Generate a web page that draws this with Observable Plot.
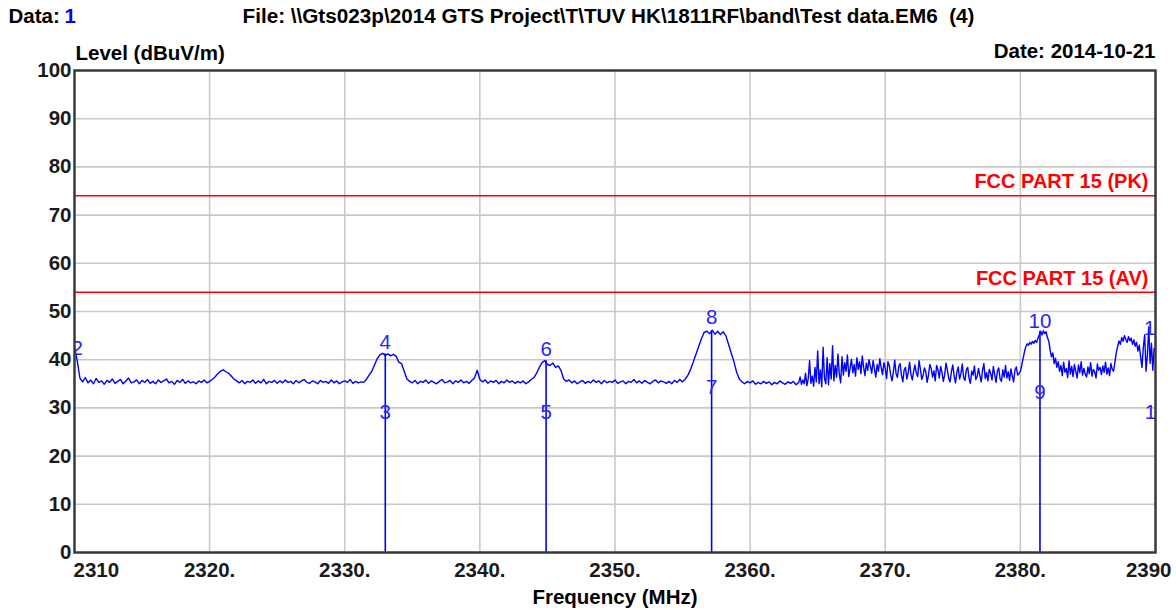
<!DOCTYPE html>
<html><head><meta charset="utf-8">
<script src="https://cdn.jsdelivr.net/npm/d3@7"></script>
<script src="https://cdn.jsdelivr.net/npm/@observablehq/plot@0.6"></script>
<style>html,body{margin:0;padding:0;background:#fff;}</style>
</head><body><div id="chart"></div>
<script>
// ---- data ----
const quietStart = 2310, quietStep = 0.2;   // sweep 2310.0 .. 2363.4 MHz
const quietLevels = [
42.5,39.8,36.2,35.4,36.3, 35.2,35.8,35.0,36.1,35.3, 35.6,34.9,35.7,35.3,36.0, 35.1,35.5,35.9,35.0,35.6,
36.2,35.2,35.4,35.8,35.0, 35.7,35.3,35.9,35.1,35.5, 35.0,35.8,35.3,35.6,36.0, 35.2,35.5,34.9,35.7,35.3,
35.9,35.1,35.6,35.2,35.4, 35.0,35.6,35.3,35.8,35.2, 35.5,35.9,36.4,37.1,37.6, 37.9,37.5,37.2,36.6,36.0,
35.6,35.2,35.7,35.0,35.5, 35.3,35.8,35.1,35.6,35.2, 35.9,35.0,35.5,35.3,35.7, 35.1,35.6,35.2,35.8,35.3,
35.5,35.0,35.7,35.2,35.6, 35.9,35.3,35.1,35.6,35.4, 35.0,35.7,35.3,35.5,35.1, 35.8,35.2,35.6,35.0,35.4,
35.6,35.3,35.9,35.1,35.5, 35.2,35.4,35.3,35.9,36.8, 37.6,38.9,40.2,41.0,41.3, 40.9,41.2,40.8,41.1,40.7,
39.5,39.2,37.6,36.0,35.5, 35.2,35.7,35.0,35.5,35.3, 35.8,35.1,35.6,35.3,35.0, 35.5,35.9,35.2,35.4,35.7,
35.0,35.6,35.3,35.8,35.2, 35.5,35.1,35.7,36.2,37.8, 35.9,35.4,35.8,35.1,35.6, 35.3,35.7,35.0,35.5,35.2,
35.8,35.3,35.6,35.1,35.5, 35.2,35.6,35.0,35.4,35.9, 36.3,37.2,38.4,39.4,39.8, 39.0,38.8,39.3,38.4,38.7,
37.8,36.0,35.5,35.8,35.2, 35.6,35.0,35.4,35.7,35.1, 35.5,35.2,35.8,35.3,35.6, 35.0,35.7,35.2,35.5,35.3,
35.8,35.1,35.4,35.6,35.0, 35.5,35.3,35.9,35.2,35.6, 35.1,35.7,35.3,35.0,35.5, 35.8,35.2,35.6,35.4,35.1,
35.5,35.0,35.7,35.3,35.9, 35.4,36.0,36.8,38.0,39.6, 41.2,42.8,44.4,45.7,45.9, 45.4,46.1,45.3,45.9,45.2,
45.8,45.0,43.2,41.4,39.6, 37.4,36.0,35.4,35.0,35.5, 35.2,35.6,34.9,35.3,35.0, 35.5,35.1,35.4,34.8,35.3,
35.0,35.6,35.2,34.9,35.4, 35.1,35.5,34.8
];
const noisyStart = 2363.6, noisyStep = 0.1; // sweep 2363.6 .. 2390.0 MHz
const noisyLevels = [
35.3,36.4,34.9,35.8,
35.0,37.2,34.6,36.0,39.8,35.1,36.6,34.5,38.4,35.4,
41.8,35.0,37.9,34.4,42.6,36.2,35.0,40.4,34.8,39.2,
36.0,42.9,35.6,38.8,36.4,41.2,37.0,35.2,40.6,36.8,
39.4,37.6,41.0,36.5,38.2,40.1,37.3,39.0,36.6,40.4,
38.0,39.6,37.1,40.8,38.4,36.7,39.3,37.8,40.0,38.6,
37.2,39.8,38.1,36.4,39.0,37.6,40.2,38.3,36.9,39.4,
38.2,36.1,39.6,38.8,36.9,35.6,37.4,39.9,37.1,36.3,
38.6,39.2,36.8,35.4,37.9,38.4,36.0,37.3,39.5,37.0,
35.8,37.6,38.9,37.2,36.5,39.8,38.1,35.9,36.7,38.3,
37.5,35.3,36.8,39.0,38.2,36.4,37.7,35.6,38.8,37.9,
36.2,38.6,37.3,35.5,36.9,39.3,37.8,36.1,35.4,37.6,
38.9,36.6,35.2,37.4,38.5,36.0,37.1,39.1,36.3,35.7,
37.9,38.4,36.2,35.1,37.6,36.8,38.7,35.9,36.5,38.2,
36.7,35.4,37.8,39.2,36.1,37.3,35.6,38.0,37.2,35.8,
38.6,36.9,35.3,37.7,38.3,36.0,35.5,37.9,36.4,38.8,
36.2,37.5,35.7,38.1,36.6,35.4,37.9,38.5,36.8,37.1,
37.6,38.8,40.2,41.6,42.7,43.3,43.0,43.6,43.2,43.8,
43.4,44.0,43.6,44.4,45.2,45.9,45.1,46.0,45.4,45.8,
44.6,43.9,42.0,40.6,41.4,39.2,40.3,38.4,39.6,37.6,
38.8,36.7,39.5,37.4,38.2,36.3,39.8,37.0,38.6,36.5,
39.0,37.6,36.2,38.9,37.3,39.6,36.8,38.2,37.0,36.4,
38.5,37.1,39.4,36.6,38.0,37.5,36.2,39.1,37.8,38.4,
36.9,38.7,37.4,39.5,37.0,38.3,36.7,39.2,38.0,37.6,
39.6,41.4,42.8,43.9,43.2,44.6,43.8,45.0,44.2,43.6,
44.8,43.9,44.5,43.2,44.1,42.8,43.6,41.8,43.0,40.6,
38.4,42.6,45.2,37.6,41.0,46.8,39.2,43.4,37.8,42.4,
41.6
];

// limit lines
const limitLevels = [74, 54];
const limitLabels = ["FCC PART 15 (PK)", "FCC PART 15 (AV)"];

// markers
const markerFreqs  = [2333.0, 2344.9, 2357.15, 2381.45];
const markerLevels = [41.2, 39.8, 46.0, 45.9];
const lowerNames   = ["3", "5", "7", "9"];
const lowerLabelLevels = [29, 29, 34.2, 33.2];
const upperNames   = ["4", "6", "8", "10"];
const upperLabelLevels = [43.6, 42.1, 48.8, 48.0];
// markers at the band edges (labels clipped by the frame)
const edgeNames  = ["2", "12", "11"];
const edgeFreqs  = [2310, 2390, 2390];
const edgeLevels = [42.3, 46.5, 29];

// axes
const xTickValues = [2310, 2320, 2330, 2340, 2350, 2360, 2370, 2380, 2390];
const xTickLabels = ["2310", "2320.", "2330.", "2340.", "2350.", "2360.", "2370.", "2380.", "2390"];
const yTickValues = [0, 10, 20, 30, 40, 50, 60, 70, 80, 90, 100];
const yTickLabels = ["0", "10", "20", "30", "40", "50", "60", "70", "80", "90", "100"];

const headerData = "Data:";
const headerDataNo = "1";
const headerFile = "File: \\\\Gts023p\\2014 GTS Project\\T\\TUV HK\\1811RF\\band\\Test data.EM6  (4)";
const headerDate = "Date: 2014-10-21";
const yTitle = "Level (dBuV/m)";
const xTitle = "Frequency (MHz)";

// ---- build tables ----
const trace = [
  ...quietLevels.map((v, i) => ({f: quietStart + i * quietStep, v})),
  ...noisyLevels.map((v, i) => ({f: noisyStart + i * noisyStep, v}))
];
const markers = markerFreqs.map((f, i) => ({
  f, level: markerLevels[i],
  lo: lowerNames[i], loY: lowerLabelLevels[i],
  up: upperNames[i], upY: upperLabelLevels[i]
}));
const edges = edgeNames.map((t, i) => ({t, f: edgeFreqs[i], v: edgeLevels[i], left: i === 0}));
const limits = limitLevels.map((v, i) => ({v, label: limitLabels[i]}));
const xTicks = xTickValues.map((v, i) => ({v, label: xTickLabels[i], i}));
const yTicks = yTickValues.map((v, i) => ({v, label: yTickLabels[i]}));

const BLUE = "#0000ff";
const BLUE_TXT = "#2424ff";
const RED = "#ff0000";
const FS = 20.5;
const bold = {fontSize: FS, fontWeight: "bold"};

const chart = Plot.plot({
  width: 1176,
  height: 610,
  marginLeft: 74,
  marginRight: 21,
  marginTop: 70,
  marginBottom: 58,
  style: {fontFamily: "'Liberation Sans', Arial, sans-serif", background: "#fff", color: "#000"},
  x: {domain: [2310, 2390], axis: null},
  y: {domain: [0, 100], axis: null},
  marks: [
    Plot.gridX(xTickValues.slice(1, -1), {stroke: "#c8c8c8", strokeOpacity: 1, strokeWidth: 1.6}),
    Plot.gridY(yTickValues.slice(1, -1), {stroke: "#c8c8c8", strokeOpacity: 1, strokeWidth: 1.6}),
    Plot.ruleY(limits, {y: "v", stroke: RED, strokeWidth: 1.6}),
    Plot.text(limits, {y: "v", text: "label", frameAnchor: "right", dx: -7, dy: -7.5,
      lineAnchor: "bottom", textAnchor: "end", fill: RED, ...bold, fontSize: 20}),
    Plot.ruleX(markers, {x: "f", y1: 0, y2: "level", stroke: BLUE, strokeWidth: 1.6}),
    Plot.line(trace, {x: "f", y: "v", stroke: BLUE, strokeWidth: 1.4, clip: true}),
    Plot.text(markers, {x: "f", y: "loY", text: "lo", fill: BLUE_TXT, fontSize: FS}),
    Plot.text(markers, {x: "f", y: "upY", text: "up", fill: BLUE_TXT, fontSize: FS}),
    Plot.text(edges.filter(d => d.left), {x: "f", y: "v", text: "t", fill: BLUE_TXT, fontSize: FS, dx: -3, textAnchor: "start", clip: true}),
    Plot.text(edges.filter(d => !d.left), {x: "f", y: "v", text: "t", fill: BLUE_TXT, fontSize: FS, clip: true}),
    Plot.frame({stroke: "#3a3a3a", strokeWidth: 2.5}),
    // y tick labels
    Plot.text(yTicks, {y: "v", text: "label", frameAnchor: "left", dx: -3, textAnchor: "end", ...bold, fill: "#1a1a1a"}),
    // x tick labels
    Plot.text(xTicks.filter(d => d.i === 0), {x: "v", text: "label", frameAnchor: "bottom", dx: -1, dy: 24,
      lineAnchor: "bottom", textAnchor: "start", ...bold, fill: "#1a1a1a"}),
    Plot.text(xTicks.filter(d => d.i > 0 && d.i < xTicks.length - 1), {x: "v", text: "label", frameAnchor: "bottom", dy: 24,
      lineAnchor: "bottom", textAnchor: "middle", ...bold, fill: "#1a1a1a"}),
    Plot.text(xTicks.filter(d => d.i === xTicks.length - 1), {x: "v", text: "label", frameAnchor: "bottom", dx: 16, dy: 24,
      lineAnchor: "bottom", textAnchor: "end", ...bold, fill: "#1a1a1a"}),
    // titles and header
    Plot.text([yTitle], {text: d => d, frameAnchor: "top-left", dx: 1, dy: -11, lineAnchor: "bottom", textAnchor: "start", ...bold}),
    Plot.text([xTitle], {text: d => d, frameAnchor: "bottom", dy: 51, lineAnchor: "bottom", textAnchor: "middle", ...bold}),
    Plot.text([headerDate], {text: d => d, frameAnchor: "top-right", dx: 0, dy: -13, lineAnchor: "bottom", textAnchor: "end", ...bold}),
    Plot.text([headerData], {text: d => d, frameAnchor: "top-left", dx: -66, dy: -48, lineAnchor: "bottom", textAnchor: "start", ...bold}),
    Plot.text([headerDataNo], {text: d => d, frameAnchor: "top-left", dx: -10, dy: -48, lineAnchor: "bottom", textAnchor: "start", ...bold, fill: BLUE}),
    Plot.text([headerFile], {text: d => d, frameAnchor: "top-left", dx: 168, dy: -48, lineAnchor: "bottom", textAnchor: "start", ...bold, fontSize: 20.7})
  ]
});
document.getElementById("chart").appendChild(chart);
</script>
</body></html>
